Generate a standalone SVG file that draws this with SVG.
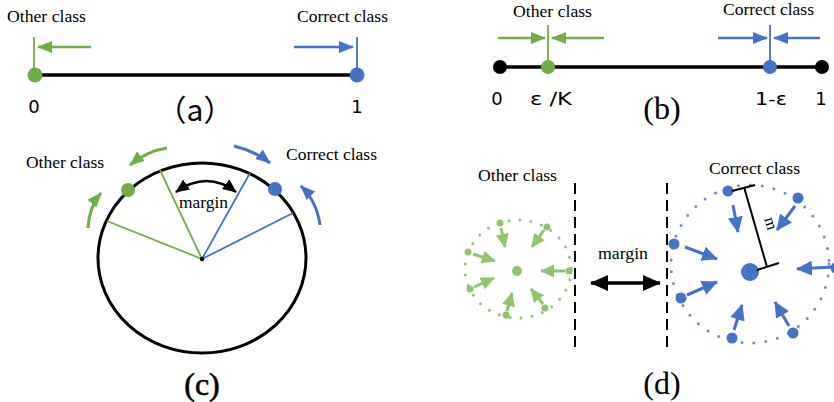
<svg xmlns="http://www.w3.org/2000/svg" width="834" height="402" viewBox="0 0 834 402">
<style>
.lbl{font-family:"Liberation Serif",serif;font-size:16px;fill:#000}
.num{font-family:"DejaVu Sans",sans-serif;font-size:18px;fill:#000}
.cap{font-family:"Liberation Serif",serif;font-size:32px;fill:#000}
.g{stroke:#70ad47;fill:none}
.b{stroke:#4472c4;fill:none}
.lg{stroke:#8fc46f;fill:none}
</style>
<defs>
<marker id="aG" markerUnits="userSpaceOnUse" markerWidth="15" markerHeight="12" refX="14" refY="6" orient="auto"><path d="M0,0 L15,6 L0,12 z" fill="#70ad47"/></marker>
<marker id="aB" markerUnits="userSpaceOnUse" markerWidth="15" markerHeight="12" refX="14" refY="6" orient="auto"><path d="M0,0 L15,6 L0,12 z" fill="#4472c4"/></marker>
<marker id="aK" markerUnits="userSpaceOnUse" markerWidth="14" markerHeight="12" refX="13" refY="6" orient="auto-start-reverse"><path d="M0,0 L14,6 L0,12 z" fill="#000"/></marker>
<marker id="aB2" markerUnits="userSpaceOnUse" markerWidth="16" markerHeight="15" refX="15" refY="7.5" orient="auto"><path d="M0,0 L16,7.5 L0,15 z" fill="#4472c4"/></marker>
<marker id="aG2" markerUnits="userSpaceOnUse" markerWidth="14" markerHeight="13" refX="13" refY="6.5" orient="auto"><path d="M0,0 L14,6.5 L0,13 z" fill="#8fc46f"/></marker>
<marker id="aK2" markerUnits="userSpaceOnUse" markerWidth="18" markerHeight="16" refX="17" refY="8" orient="auto-start-reverse"><path d="M0,0 L18,8 L0,16 z" fill="#000"/></marker>
</defs>

<!-- Panel (a) -->
<g id="panel-a">
  <line x1="35" y1="75" x2="357" y2="75" stroke="#000" stroke-width="3.5"/>
  <line x1="34" y1="37" x2="34" y2="75" class="g" stroke-width="1.8"/>
  <line x1="357" y1="37" x2="357" y2="75" class="b" stroke-width="1.8"/>
  <circle cx="35" cy="75" r="7.5" fill="#70ad47"/>
  <circle cx="357" cy="75" r="7.5" fill="#4472c4"/>
  <text class="lbl" x="7" y="22" textLength="79" lengthAdjust="spacingAndGlyphs">Other class</text>
  <text class="lbl" x="297" y="22" textLength="91" lengthAdjust="spacingAndGlyphs">Correct class</text>
  <text class="num" x="34" y="113" text-anchor="middle">0</text>
  <text class="num" x="357" y="113" text-anchor="middle">1</text>
  <text x="195" y="121" text-anchor="middle" style="font-family:'Noto Sans CJK SC',sans-serif;font-size:30px">（a）</text>
</g>
<g id="connectors-a">
  <line x1="91" y1="47" x2="38" y2="47" class="g" stroke-width="2.5" marker-end="url(#aG)"/>
  <line x1="294" y1="47" x2="353" y2="47" class="b" stroke-width="2.5" marker-end="url(#aB)"/>
</g>

<!-- Panel (b) -->
<g id="panel-b">
  <line x1="500" y1="67" x2="822" y2="67" stroke="#000" stroke-width="3.5"/>
  <line x1="548" y1="25" x2="548" y2="67" class="g" stroke-width="1.8"/>
  <line x1="770" y1="25" x2="770" y2="67" class="b" stroke-width="1.8"/>
  <circle cx="500" cy="67" r="7" fill="#000"/>
  <circle cx="822" cy="67" r="7" fill="#000"/>
  <circle cx="548" cy="67" r="7" fill="#70ad47"/>
  <circle cx="770" cy="67" r="7" fill="#4472c4"/>
  <text class="lbl" x="513" y="17" textLength="79" lengthAdjust="spacingAndGlyphs">Other class</text>
  <text class="lbl" x="723" y="15" textLength="91" lengthAdjust="spacingAndGlyphs">Correct class</text>
  <text class="num" x="497" y="105" text-anchor="middle">0</text>
  <text class="num" x="530" y="105" textLength="42" lengthAdjust="spacingAndGlyphs">ε /K</text>
  <text class="num" x="755" y="105" textLength="32" lengthAdjust="spacingAndGlyphs">1-ε</text>
  <text class="num" x="821" y="105" text-anchor="middle">1</text>
  <text class="cap" x="662" y="119" text-anchor="middle">(b)</text>
</g>
<g id="connectors-b">
  <line x1="498" y1="38" x2="545" y2="38" class="g" stroke-width="2.5" marker-end="url(#aG)"/>
  <line x1="604" y1="38" x2="552" y2="38" class="g" stroke-width="2.5" marker-end="url(#aG)"/>
  <line x1="718" y1="38" x2="767" y2="38" class="b" stroke-width="2.5" marker-end="url(#aB)"/>
  <line x1="820" y1="38" x2="774" y2="38" class="b" stroke-width="2.5" marker-end="url(#aB)"/>
</g>

<!-- Panel (c) -->
<g id="panel-c">
  <ellipse cx="202" cy="258" rx="104" ry="95" fill="none" stroke="#000" stroke-width="3"/>
  <line x1="202" y1="259" x2="107" y2="221" class="g" stroke-width="1.8"/>
  <line x1="202" y1="259" x2="160" y2="170" class="g" stroke-width="1.8"/>
  <line x1="202" y1="259" x2="250" y2="173" class="b" stroke-width="1.8"/>
  <line x1="202" y1="259" x2="293" y2="213" class="b" stroke-width="1.8"/>
  <circle cx="202" cy="259" r="2.2" fill="#000"/>
  <circle cx="128" cy="190" r="7" fill="#70ad47"/>
  <circle cx="275" cy="189" r="7" fill="#4472c4"/>
  <text class="lbl" x="179" y="208" textLength="49" lengthAdjust="spacingAndGlyphs">margin</text>
  <text class="lbl" x="26" y="168" textLength="78" lengthAdjust="spacingAndGlyphs">Other class</text>
  <text class="lbl" x="286" y="160" textLength="91" lengthAdjust="spacingAndGlyphs">Correct class</text>
  <text class="cap" x="202" y="395" text-anchor="middle" stroke="#000" stroke-width="0.6">(c)</text>
</g>
<g id="connectors-c">
  <path d="M176,192 Q207,170 236,192" stroke="#000" stroke-width="2.5" fill="none" marker-start="url(#aK)" marker-end="url(#aK)"/>
  <path d="M167,148 Q147,151 130,165" class="g" stroke-width="3" marker-end="url(#aG)"/>
  <path d="M88,228 Q89,207 101,193" class="g" stroke-width="3" marker-end="url(#aG)"/>
  <path d="M234,146 Q255,151 270,163" class="b" stroke-width="3" marker-end="url(#aB)"/>
  <path d="M320,225 Q317,202 301,186" class="b" stroke-width="3" marker-end="url(#aB)"/>
</g>

<!-- Panel (d) -->
<g id="panel-d">
  <line x1="575" y1="183" x2="575" y2="347" stroke="#000" stroke-width="2" stroke-dasharray="11 6"/>
  <line x1="667" y1="183" x2="667" y2="347" stroke="#000" stroke-width="2" stroke-dasharray="11 6"/>
  <text class="lbl" x="478" y="181" textLength="79" lengthAdjust="spacingAndGlyphs">Other class</text>
  <text class="lbl" x="709" y="174" textLength="91" lengthAdjust="spacingAndGlyphs">Correct class</text>
  <text class="lbl" x="598" y="259" textLength="50" lengthAdjust="spacingAndGlyphs">margin</text>
  <text class="cap" x="662" y="394" text-anchor="middle">(d)</text>
</g>
<g id="other-cluster">
  <ellipse cx="518" cy="269" rx="53" ry="49" class="lg" stroke-width="3" stroke-linecap="round" stroke-dasharray="0 11"/>
  <circle cx="517" cy="271" r="5" fill="#8fc46f"/>
  <circle cx="500" cy="223" r="3.5" fill="#8fc46f"/>
  <circle cx="547" cy="227" r="3.5" fill="#8fc46f"/>
  <circle cx="468" cy="252" r="3.5" fill="#8fc46f"/>
  <circle cx="569" cy="271" r="3.5" fill="#8fc46f"/>
  <circle cx="470" cy="289" r="3.5" fill="#8fc46f"/>
  <circle cx="506" cy="315" r="3.5" fill="#8fc46f"/>
  <circle cx="545" cy="308" r="3.5" fill="#8fc46f"/>
</g>
<g id="correct-cluster">
  <circle cx="750" cy="264" r="79" fill="none" stroke="#4472c4" stroke-opacity="0.8" stroke-width="3" stroke-linecap="round" stroke-dasharray="0 12"/>
  <circle cx="750" cy="272" r="9" fill="#4472c4"/>
  <circle cx="728" cy="191" r="5.5" fill="#4472c4"/>
  <circle cx="798" cy="198" r="5.5" fill="#4472c4"/>
  <circle cx="674" cy="244" r="5.5" fill="#4472c4"/>
  <circle cx="681" cy="298" r="5.5" fill="#4472c4"/>
  <circle cx="732" cy="338" r="5.5" fill="#4472c4"/>
  <circle cx="793" cy="333" r="5.5" fill="#4472c4"/>
  <circle cx="836" cy="268" r="5.5" fill="#4472c4"/>
  <line x1="744" y1="187" x2="767" y2="267" stroke="#000" stroke-width="2"/>
  <line x1="732" y1="191" x2="755" y2="185" stroke="#000" stroke-width="2"/>
  <line x1="757" y1="270" x2="779" y2="263" stroke="#000" stroke-width="2"/>
  <text class="lbl" x="766" y="225" text-anchor="middle" transform="rotate(73 766 225)">m</text>
</g>
<g id="connectors-d">
  <line x1="591" y1="283" x2="660" y2="283" stroke="#000" stroke-width="3.5" marker-start="url(#aK2)" marker-end="url(#aK2)"/>
  <line x1="501" y1="228" x2="505" y2="247" class="lg" stroke-width="3" marker-end="url(#aG2)"/>
  <line x1="544" y1="230" x2="532" y2="247" class="lg" stroke-width="3" marker-end="url(#aG2)"/>
  <line x1="473" y1="254" x2="495" y2="261" class="lg" stroke-width="3" marker-end="url(#aG2)"/>
  <line x1="565" y1="271" x2="541" y2="271" class="lg" stroke-width="3" marker-end="url(#aG2)"/>
  <line x1="474" y1="287" x2="494" y2="278" class="lg" stroke-width="3" marker-end="url(#aG2)"/>
  <line x1="507" y1="311" x2="512" y2="293" class="lg" stroke-width="3" marker-end="url(#aG2)"/>
  <line x1="543" y1="304" x2="531" y2="289" class="lg" stroke-width="3" marker-end="url(#aG2)"/>
  <line x1="733" y1="205" x2="738" y2="232" class="b" stroke-width="3" marker-end="url(#aB2)"/>
  <line x1="795" y1="206" x2="777" y2="230" class="b" stroke-width="3" marker-end="url(#aB2)"/>
  <line x1="685" y1="247" x2="717" y2="259" class="b" stroke-width="3" marker-end="url(#aB2)"/>
  <line x1="687" y1="295" x2="717" y2="282" class="b" stroke-width="3" marker-end="url(#aB2)"/>
  <line x1="734" y1="330" x2="742" y2="305" class="b" stroke-width="3" marker-end="url(#aB2)"/>
  <line x1="789" y1="326" x2="775" y2="302" class="b" stroke-width="3" marker-end="url(#aB2)"/>
  <line x1="832" y1="267" x2="797" y2="269" class="b" stroke-width="3" marker-end="url(#aB2)"/>
</g>
</svg>
